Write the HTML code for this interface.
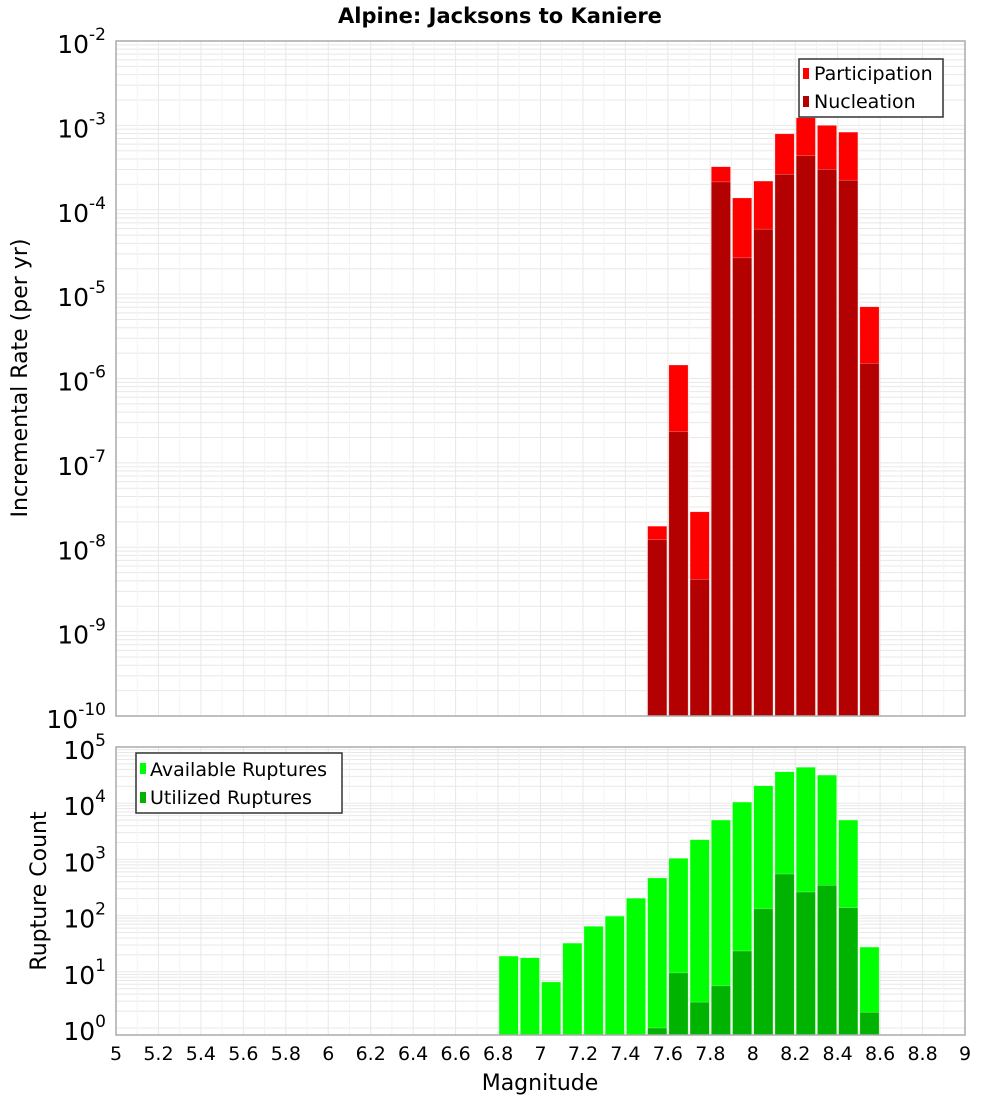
<!DOCTYPE html>
<html><head><meta charset="utf-8"><style>
body{margin:0;background:#fff;}
svg{display:block;font-family:"DejaVu Sans","Liberation Sans",sans-serif;}
</style></head><body>
<svg id="chart" width="1000" height="1100" viewBox="0 0 1000 1100">
<text x="500" y="23" text-anchor="middle" font-size="21" font-weight="bold">Alpine: Jacksons to Kaniere</text>
<g id="top"></g><g id="bot"></g>
<text transform="translate(27,378) rotate(-90)" text-anchor="middle" font-size="22">Incremental Rate (per yr)</text>
<text transform="translate(46,891) rotate(-90)" text-anchor="middle" font-size="22">Rupture Count</text>
<text x="540" y="1090" text-anchor="middle" font-size="22">Magnitude</text>
<g>
<rect x="799" y="59" width="144" height="58" fill="#fff" stroke="#333" stroke-width="1.5"/>
<rect x="803" y="68" width="6" height="11" fill="#ff0000"/>
<text x="814" y="80" font-size="19">Participation</text>
<rect x="803" y="96" width="6" height="11" fill="#b30000"/>
<text x="814" y="108" font-size="19">Nucleation</text>
</g>
<g>
<rect x="136" y="753" width="206" height="60" fill="#fff" stroke="#333" stroke-width="1.5"/>
<rect x="140" y="763" width="6" height="11" fill="#00ff00"/>
<text x="150" y="776" font-size="19">Available Ruptures</text>
<rect x="140" y="792" width="6" height="11" fill="#00b300"/>
<text x="150" y="804" font-size="19">Utilized Ruptures</text>
</g>
</svg>
<script>
const mags=[6.85,6.95,7.05,7.15,7.25,7.35,7.45,7.55,7.65,7.75,7.85,7.95,8.05,8.15,8.25,8.35,8.45,8.55];
const partLog=[null,null,null,null,null,null,null,-7.75,-5.84,-7.58,-3.49,-3.86,-3.66,-3.10,-2.91,-3.0,-3.08,-5.15];
const nuclLog=[null,null,null,null,null,null,null,-7.91,-6.63,-8.38,-3.67,-4.57,-4.23,-3.58,-3.36,-3.52,-3.65,-5.82];
const availLog=[1.28,1.25,0.82,1.51,1.81,1.99,2.31,2.67,3.02,3.35,3.70,4.02,4.31,4.56,4.64,4.5,3.70,1.44];
const usedLog=[null,null,null,null,null,null,null,0.0,0.98,0.46,0.75,1.37,2.12,2.74,2.42,2.54,2.14,0.28];
const xTicks=["5","5.2","5.4","5.6","5.8","6","6.2","6.4","6.6","6.8","7","7.2","7.4","7.6","7.8","8","8.2","8.4","8.6","8.8","9"];
const NS="http://www.w3.org/2000/svg";
const X0=116,X1=965;
const xs=m=>X0+(m-5)/4*(X1-X0);
function el(p,t,a){const e=document.createElementNS(NS,t);for(const k in a)e.setAttribute(k,a[k]);p.appendChild(e);return e;}
function panel(g,top,bot,yAt,dMin,dMax,bins,series,name){
  // grid
  for(let d=dMin;d<dMax;d++){for(let k=1;k<10;k++){const y=yAt(d+Math.log10(k));if(y<top||y>bot)continue;
    const l=el(g,'line',{x1:X0,x2:X1,y1:y,y2:y,stroke:'#e8e8e8','stroke-width':1});
    }}
  for(let i=0;i<=40;i++){const x=xs(5+i*0.1);el(g,'line',{x1:x,x2:x,y1:top,y2:bot,stroke:i%2?'#f3f3f3':'#e8e8e8'});}
  series.forEach(s=>{s.vals.forEach((v,i)=>{if(v==null)return;const m=bins[i];
    const xa=xs(m-0.05)+1,xb=xs(m+0.05)-1,y=yAt(v);
    const r=el(g,'rect',{x:xa,y:y,width:xb-xa,height:bot-y,fill:s.color,stroke:'#fff','stroke-opacity':0.5,'stroke-width':0.5});
    });});
  el(g,'rect',{x:X0,y:top,width:X1-X0,height:bot-top,fill:'none',stroke:'#aaa','stroke-width':1.5});
  for(let d=dMin;d<=dMax;d++){const y=yAt(d);
    const t=el(g,'text',{x:106,y:y+12,'text-anchor':'end','font-size':25});
    
    t.textContent='10';
    const s=el(t,'tspan',{dy:-13,'font-size':17});s.textContent=String(d);}
}
const tg=document.getElementById('top');
const yT=v=>41+(-2-v)*84.375;
panel(tg,41,716,yT,-10,-2,mags,[{vals:partLog,color:'#ff0000',name:'participation'},{vals:nuclLog,color:'#b30000',name:'nucleation'}],'top');
const bg=document.getElementById('bot');
const yB=v=>1028-v*56.2;
panel(bg,747,1035,yB,0,5,mags,[{vals:availLog,color:'#00ff00',name:'available'},{vals:usedLog,color:'#00b300',name:'utilized'}],'bottom');
xTicks.forEach((t,i)=>{const x=xs(parseFloat(t));
  const e=el(bg,'text',{x:x,y:1060,'text-anchor':'middle','font-size':19});
  e.textContent=t;});
</script>
</body></html>
